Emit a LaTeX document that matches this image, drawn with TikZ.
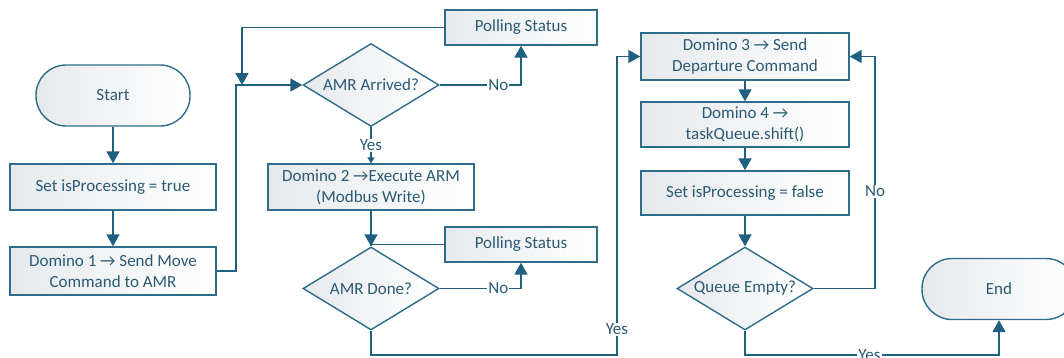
\documentclass[tikz,border=0pt]{standalone}
\usepackage{fontspec}
\setmainfont{Carlito}
\usetikzlibrary{arrows.meta,shapes.geometric}
\definecolor{lc}{HTML}{1F5F7F}
\definecolor{bc}{HTML}{2D6C8A}
\definecolor{tc}{HTML}{2A5A74}
\definecolor{sh}{HTML}{E6E9EC}
\begin{document}
\begin{tikzpicture}[x=1pt,y=-1pt,
  every node/.style={font=\fontsize{17}{21}\selectfont, text=tc, align=center},
  box/.style={draw=bc, line width=1.4pt, left color=sh, right color=white, inner sep=0pt},
  proc/.style={box, minimum width=206pt, minimum height=46pt},
  poll/.style={box, minimum width=152pt, minimum height=35pt},
  term/.style={box, rounded corners=30pt, minimum width=154pt, minimum height=61pt},
  dec/.style={box, diamond, aspect=1.64, minimum width=136pt, minimum height=83pt},
  arr/.style={draw=lc, line width=1.8pt, -{Triangle[width=13pt,length=12pt]}},
  sarr/.style={draw=lc, line width=1.8pt, -{Triangle[width=7pt,length=6pt]}},
  ln/.style={draw=lc, line width=1.8pt},
  lbl/.style={fill=white, inner sep=1pt}]
\useasboundingbox (0,0) rectangle (1064,357);
\clip (0,0) rectangle (1064,357);
% nodes
\node[term] (start) at (113,95.5) {Start};
\node[proc] (set1) at (113,187) {Set isProcessing = true};
\node[proc, minimum height=48pt] (dom1) at (113,271) {Domino 1 → Send Move\\Command to AMR};
\node[poll] (poll1) at (521,27.5) {Polling Status};
\node[dec] (arr) at (371,85) {AMR Arrived?};
\node[proc] (dom2) at (371,187) {Domino 2 →Execute ARM\\(Modbus Write)};
\node[poll] (poll2) at (521,244.5) {Polling Status};
\node[dec] (done) at (371,288.5) {AMR Done?};
\node[proc, minimum width=208pt, minimum height=47pt] (dom3) at (745,56.5) {Domino 3 → Send\\Departure Command};
\node[proc, minimum width=208pt, minimum height=45pt] (dom4) at (745,124.5) {Domino 4 →\\taskQueue.shift()};
\node[proc, minimum width=208pt, minimum height=44pt] (set2) at (745,193) {Set isProcessing = false};
\node[dec] (queue) at (745,288.5) {Queue Empty?};
\node[term] (end) at (999,289) {End};
% helper coordinates
\coordinate (j1) at (236,85);
\coordinate (j2) at (242,85);
\coordinate (bot1) at (617,355);
\coordinate (rx) at (875,0);
\coordinate (bot2) at (999,355);
% connectors
\draw[arr] (start) -- (set1);
\draw[arr] (set1) -- (dom1);
\draw[arr] (dom1.east) -- (dom1.east -| j1) -- (j1) -- (arr.west);
\draw[arr] (poll1.west) -| (j2);
\draw[arr] (arr.east) -| node[lbl, pos=0.36] {No} (poll1.south);
\draw[sarr] (arr.south) -- node[lbl] {Yes} (dom2.north);
\draw[arr] (dom2.south) -- (done.north);
\draw[ln] (poll2.west) -- (poll2.west -| done.north) -- (done.north);
\draw[arr] (done.east) -| node[lbl, pos=0.36] {No} (poll2.south);
\draw[arr] (done.south) -- (done.south |- bot1) -- (bot1) -- node[lbl, pos=0.087] {Yes} (bot1 |- dom3.west) -- (dom3.west);
\draw[arr] (dom3) -- (dom4);
\draw[arr] (dom4) -- (set2);
\draw[arr] (set2) -- (queue);
\draw[arr] (queue.east) -- (queue.east -| rx) -- node[lbl, pos=0.42] {No} (rx |- dom3.east) -- (dom3.east);
\draw[arr] (queue.south) -- (queue.south |- bot2) -- node[lbl, pos=0.49] {Yes} (bot2) -- (end.south);
\end{tikzpicture}
\end{document}
